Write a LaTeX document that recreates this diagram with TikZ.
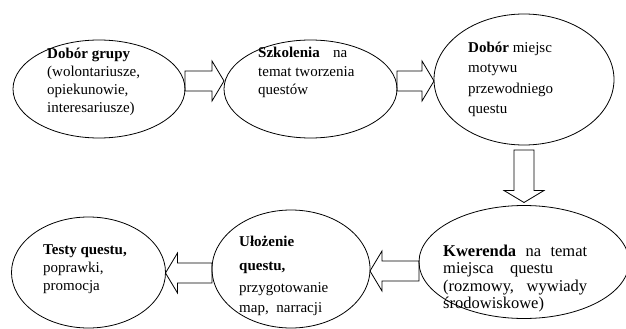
\documentclass[tikz,border=0pt]{standalone}
\usepackage{fontspec}
\setmainfont{Liberation Serif}
\usetikzlibrary{shapes.geometric,calc}

\def\shaftw{10pt}
\def\headw{20pt}
\def\headlen{12pt}

\tikzset{
  oval/.style={draw, ellipse, inner sep=0pt, outer sep=0pt, line width=0.8pt},
  txt/.style={anchor=base west, inner sep=0pt, align=left, font=\fontsize{15}{18}\selectfont},
  fatarrow/.style={draw, line width=0.8pt, line join=miter, to path={
    let \p1=($(\tikztotarget)!\headlen!(\tikztostart)$) in
    ($(\tikztostart)!\shaftw!90:(\tikztotarget)$)
    -- ($(\p1)!\shaftw!-90:(\tikztostart)$)
    -- ($(\p1)!\headw!-90:(\tikztostart)$)
    -- (\tikztotarget)
    -- ($(\p1)!\headw!90:(\tikztostart)$)
    -- ($(\p1)!\shaftw!90:(\tikztostart)$)
    -- ($(\tikztostart)!\shaftw!-90:(\tikztotarget)$)
    -- cycle}}
}

\begin{document}
\begin{tikzpicture}[x=1pt, y=-1pt]
\useasboundingbox (0,0) rectangle (626,329);
% ellipses
\node[oval, minimum width=172pt, minimum height=98pt] (e1) at (99,89) {};
\node[oval, minimum width=173pt, minimum height=98pt] (e2) at (310.5,89) {};
\node[oval, minimum width=180pt, minimum height=131pt] (e3) at (524,79.5) {};
\node[oval, minimum width=210pt, minimum height=113pt] (e4) at (524,262) {};
\node[oval, minimum width=158pt, minimum height=118pt] (e5) at (291,269) {};
\node[oval, minimum width=154pt, minimum height=111pt] (e6) at (88.5,272.5) {};
% texts (placed at the baseline of their last line)
\node[txt] (t1) at (47,112) {\textbf{Dobór grupy}\\(wolontariusze,\\opiekunowie,\\interesariusze)};
\node[txt] (t2) at (258,94) {\makebox[89pt][s]{\textbf{Szkolenia} na}\\temat tworzenia\\questów};
\node[txt, font=\fontsize{15}{20.5}\selectfont] (t3) at (468,113.5) {\textbf{Dobór} miejsc\\motywu\\przewodniego\\questu};
\node[txt, font=\fontsize{16.5}{17.5}\selectfont] (t4) at (443,308.5) {\makebox[144pt][s]{\textbf{Kwerenda} na temat}\\\makebox[110pt][s]{miejsca questu}\\\makebox[144pt][s]{(rozmowy, wywiady}\\środowiskowe)};
\node[txt] (t5) at (239,312) {\textbf{Ułożenie}\\[6pt]\textbf{questu,}\\[4pt]przygotowanie\\[2pt]\makebox[83pt][s]{map, narracji}};
\node[txt] (t6) at (43,290) {\textbf{Testy questu,}\\poprawki,\\promocja};
% arrows
\draw[fatarrow] ([yshift=8pt]e1.east) to ([yshift=8pt]e2.west);
\draw[fatarrow] ([yshift=8pt]e2.east) to ([yshift=-1.5pt]e3.west);
\draw[fatarrow] ([yshift=-5pt]e3.south) to ([yshift=3pt]e4.north);
\draw[fatarrow] ([yshift=-9pt]e4.west) to ([yshift=-2pt]e5.east);
\draw[fatarrow] ([yshift=-4pt]e5.west) to ([yshift=-0.5pt]e6.east);
\end{tikzpicture}
\end{document}
